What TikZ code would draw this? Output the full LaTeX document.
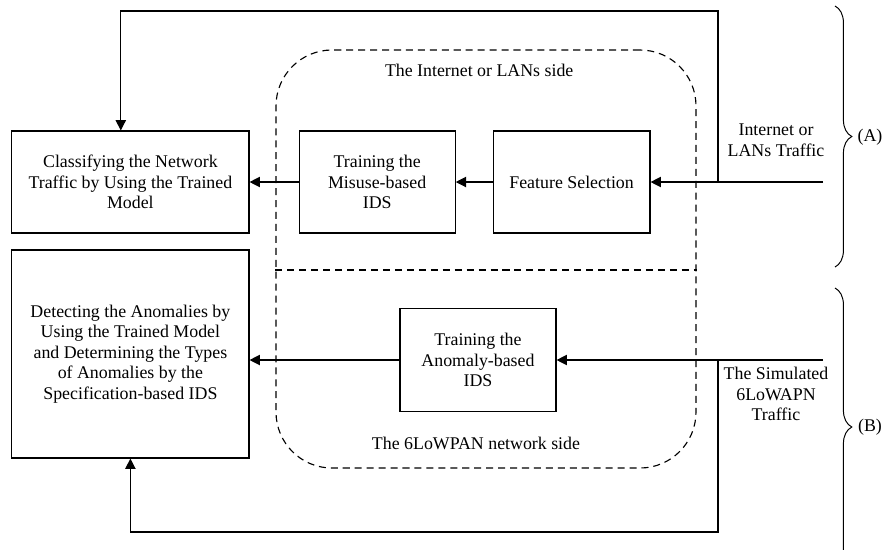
\documentclass[tikz,border=0pt]{standalone}
\usepackage{fontspec}
\setmainfont{Liberation Serif}
\usepackage{tikz}
\usetikzlibrary{arrows.meta, positioning, decorations.pathreplacing}

\begin{document}
\begin{tikzpicture}[
			font=\fontsize{12.7}{14.6}\selectfont,
			block/.style={
					draw,
					minimum width=3.9cm,
					minimum height=2.55cm,
					align=center,
					line width=0.8pt
				},
			bigblock/.style={
					block,
					minimum width=5.93cm
				},
			zone/.style={
					draw,
					dash pattern=on 5pt off 3.5pt,
					rounded corners=1.4cm,
					line width=0.8pt,
					minimum width=10.5cm,
					minimum height=10.45cm
				},
			flow/.style={
			-{Triangle[length=0.26cm, width=0.26cm]},
			line width=0.8pt
			},
			bracket/.style={
			decorate,
			decoration={brace, amplitude=0.42cm},
			line width=0.7pt
			}
			]

			\useasboundingbox (0,0) rectangle (22.175,-13.725);

			% ================= 虚线区域 =================
			\node[zone] (netzone) at (12.15,-6.475) {};
			\draw[dash pattern=on 5pt off 3.5pt, line width=0.8pt] (netzone.west |- 0,-6.75) -- (netzone.east |- 0,-6.75);
			\node (lanside) at (11.98,-1.75) {The Internet or LANs side};
			\node (wsnside) at (11.9,-11.08) {The 6LoWPAN network side};

			% ================= 模块 =================
			\node[bigblock] (classify) at (3.26,-4.55) {Classifying the Network\\Traffic by Using the Trained\\Model};
			\node[bigblock, minimum height=5.2cm] (detect) at (3.26,-8.85) {Detecting the Anomalies by\\Using the Trained Model\\and Determining the Types\\of Anomalies by the\\Specification-based IDS};
			\node[block] (misuse) at (9.43,-4.55) {Training the\\Misuse-based\\IDS};
			\node[block, minimum width=3.92cm] (feature) at (14.29,-4.55) {Feature Selection};
			\node[block, minimum height=2.58cm] (anomaly) at (11.95,-9.0) {Training the\\Anomaly-based\\IDS};

			% ================= 输入流量 =================
			\coordinate (inA) at (20.575,-4.55);
			\coordinate (inB) at (20.575,-9.0);
			\coordinate (splitA) at (17.95,-4.55);
			\coordinate (splitB) at (17.95,-9.0);
			\coordinate (topA) at (17.95,-0.275);
			\coordinate (botB) at (17.95,-13.3);

			\node[align=center] (trafficA) at (19.4,-3.5) {Internet or\\LANs Traffic};
			\node[align=center] (trafficB) at (19.4,-9.85) {The Simulated\\6LoWAPN\\Traffic};

			% ================= 数据通路 =================
			\draw[flow] (inA) -- (feature.east);
			\draw[flow] (feature.west) -- (misuse.east);
			\draw[flow] (misuse.west) -- (classify.east);
			\draw[flow] (inB) -- (anomaly.east);
			\draw[flow] (anomaly.west) -- (anomaly.west -| detect.east);

			% 反馈线，从顶部和底部绕行
			\draw[flow] (splitA) -- (topA) -| ([xshift=-0.24cm]classify.north);
			\draw[flow] (splitB) -- (botB) -| (detect.south);

			% ================= 括号 =================
			\draw[bracket] (20.875,-0.15) -- (20.875,-6.675);
			\draw[bracket] (20.875,-7.2) -- (20.875,-14.15);
			\node (partA) at (21.75,-3.425) {(A)};
			\node (partB) at (21.75,-10.675) {(B)};

		\end{tikzpicture}
\end{document}
